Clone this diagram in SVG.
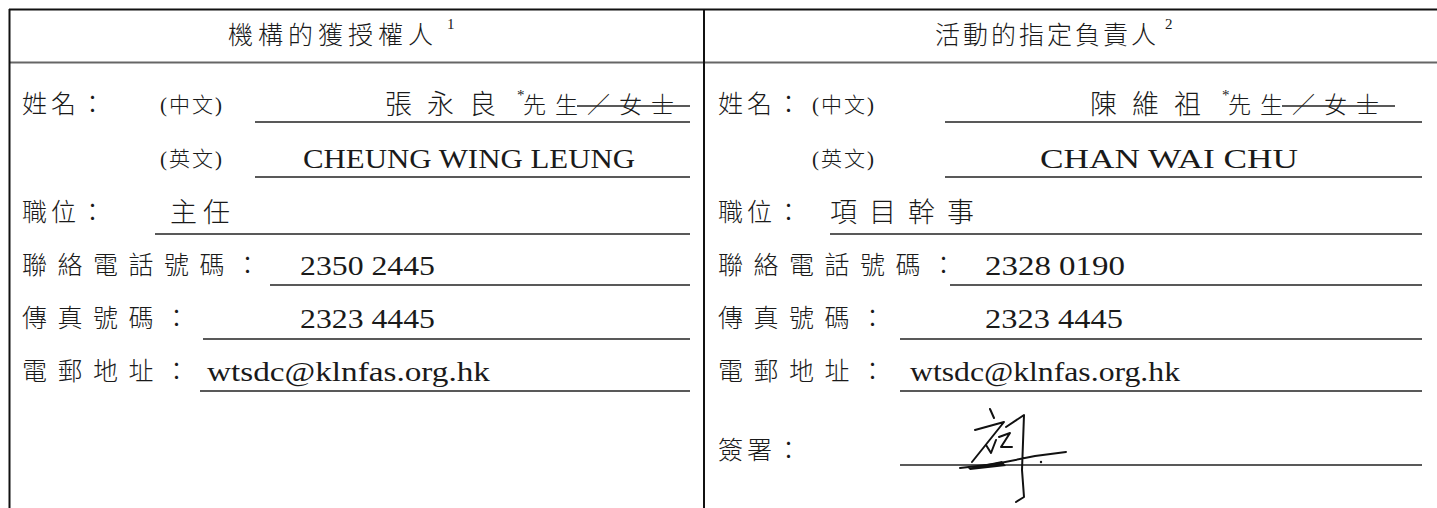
<svg xmlns="http://www.w3.org/2000/svg" width="1437" height="508" viewBox="0 0 1437 508">
<style>
.frame{stroke:#111;stroke-width:2;fill:none}
.hline{stroke:#666;stroke-width:2;fill:none}
.ul{stroke:#222;stroke-width:1.6;fill:none}
.cjk{font-family:"Noto Sans CJK TC","Noto Sans CJK SC",sans-serif;font-weight:300;fill:#1a1a1a}
.lbl{font-size:25px}
.short{letter-spacing:4px}
.long{letter-spacing:10.5px}
.title{font-size:25px}
.val{font-family:"Liberation Serif",serif;font-size:28px;fill:#1a1a1a}
.cjkval{font-size:27px}
.small{font-size:23px;letter-spacing:9px}
.paren{font-family:"Liberation Serif","Noto Sans CJK TC",serif;font-weight:300;font-size:21px;letter-spacing:2px;fill:#1a1a1a}
.sup{font-family:"Liberation Serif",serif;font-size:15px;fill:#1a1a1a}
.sig{stroke:#111;stroke-width:2;fill:none;stroke-linecap:round;stroke-linejoin:round}
</style>
<rect width="1437" height="508" fill="#fff"/>
<g id="frame">
<line class="frame" x1="9" y1="9.5" x2="1437" y2="9.5"/>
<line class="hline" x1="9" y1="62.5" x2="1437" y2="62.5"/>
<line class="frame" x1="9.5" y1="9" x2="9.5" y2="508"/>
<line class="frame" x1="704" y1="9" x2="704" y2="508"/>
</g>
<g id="header-left">
<text class="cjk title" x="228" y="44" style="letter-spacing:5px">機構的獲授權人</text>
<text class="sup" x="447" y="29">1</text>
</g>
<g id="header-right">
<text class="cjk title" x="935" y="44" style="letter-spacing:3px">活動的指定負責人</text>
<text class="sup" x="1165" y="29">2</text>
</g>
<g id="left-column">
<text class="cjk lbl short" x="22" y="113">姓名：</text>
<text class="paren" x="160" y="112">(中文)</text>
<text class="cjk cjkval" x="385" y="114" style="letter-spacing:15px">張永良</text>
<text class="sup" x="517" y="100" font-size="12">*</text>
<text class="cjk small" x="523" y="113">先生／女士</text>
<line class="ul" x1="577" y1="106" x2="690" y2="106"/>
<line class="ul" x1="255" y1="122" x2="690" y2="122"/>

<text class="paren" x="160" y="166">(英文)</text>
<text class="val" x="303" y="168" textLength="332" lengthAdjust="spacingAndGlyphs">CHEUNG WING LEUNG</text>
<line class="ul" x1="255" y1="177" x2="690" y2="177"/>

<text class="cjk lbl short" x="22" y="221">職位：</text>
<text class="cjk cjkval" x="170" y="222" style="letter-spacing:6px">主任</text>
<line class="ul" x1="155" y1="234" x2="690" y2="234"/>

<text class="cjk lbl long" x="22" y="274">聯絡電話號碼：</text>
<text class="val" x="300" y="275" textLength="135" lengthAdjust="spacingAndGlyphs">2350 2445</text>
<line class="ul" x1="270" y1="285" x2="690" y2="285"/>

<text class="cjk lbl long" x="22" y="327">傳真號碼：</text>
<text class="val" x="300" y="328" textLength="135" lengthAdjust="spacingAndGlyphs">2323 4445</text>
<line class="ul" x1="203" y1="339" x2="690" y2="339"/>

<text class="cjk lbl long" x="22" y="380">電郵地址：</text>
<text class="val" x="207" y="381" textLength="283" lengthAdjust="spacingAndGlyphs">wtsdc@klnfas.org.hk</text>
<line class="ul" x1="200" y1="391" x2="690" y2="391"/>
</g>
<g id="right-column">
<text class="cjk lbl short" x="718" y="113">姓名：</text>
<text class="paren" x="812" y="112">(中文)</text>
<text class="cjk cjkval" x="1090" y="114" style="letter-spacing:15px">陳維祖</text>
<text class="sup" x="1222" y="100" font-size="12">*</text>
<text class="cjk small" x="1228" y="113">先生／女士</text>
<line class="ul" x1="1282" y1="106" x2="1395" y2="106"/>
<line class="ul" x1="945" y1="122" x2="1422" y2="122"/>

<text class="paren" x="812" y="166">(英文)</text>
<text class="val" x="1040" y="168" textLength="258" lengthAdjust="spacingAndGlyphs">CHAN WAI CHU</text>
<line class="ul" x1="945" y1="177" x2="1422" y2="177"/>

<text class="cjk lbl short" x="718" y="221">職位：</text>
<text class="cjk cjkval" x="830" y="222" style="letter-spacing:12px">項目幹事</text>
<line class="ul" x1="830" y1="234" x2="1422" y2="234"/>

<text class="cjk lbl long" x="718" y="274">聯絡電話號碼：</text>
<text class="val" x="985" y="275" textLength="140" lengthAdjust="spacingAndGlyphs">2328 0190</text>
<line class="ul" x1="950" y1="285" x2="1422" y2="285"/>

<text class="cjk lbl long" x="718" y="327">傳真號碼：</text>
<text class="val" x="985" y="328" textLength="138" lengthAdjust="spacingAndGlyphs">2323 4445</text>
<line class="ul" x1="900" y1="339" x2="1422" y2="339"/>

<text class="cjk lbl long" x="718" y="380">電郵地址：</text>
<text class="val" x="910" y="381" textLength="270" lengthAdjust="spacingAndGlyphs">wtsdc@klnfas.org.hk</text>
<line class="ul" x1="900" y1="391" x2="1422" y2="391"/>

<text class="cjk lbl short" x="718" y="459">簽署：</text>
<line class="ul" x1="900" y1="465" x2="1422" y2="465"/>
<path class="sig" d="M990 409 L994 418 M975 430 L1004 422 L972 462 M986 445 L991 453 L996 440 M999 437 L1010 433 L1001 447 L1012 447 M1006 427 L1024 415 L1022 470 L1024 497 L1016 502 M960 468 L995 464 L1035 456 L1066 452"/>
<path d="M968 468 L1002 461 L1006 466 L970 470 Z" fill="#111"/>
<circle cx="1041" cy="462" r="1.2" fill="#111"/>
</g>
</svg>
